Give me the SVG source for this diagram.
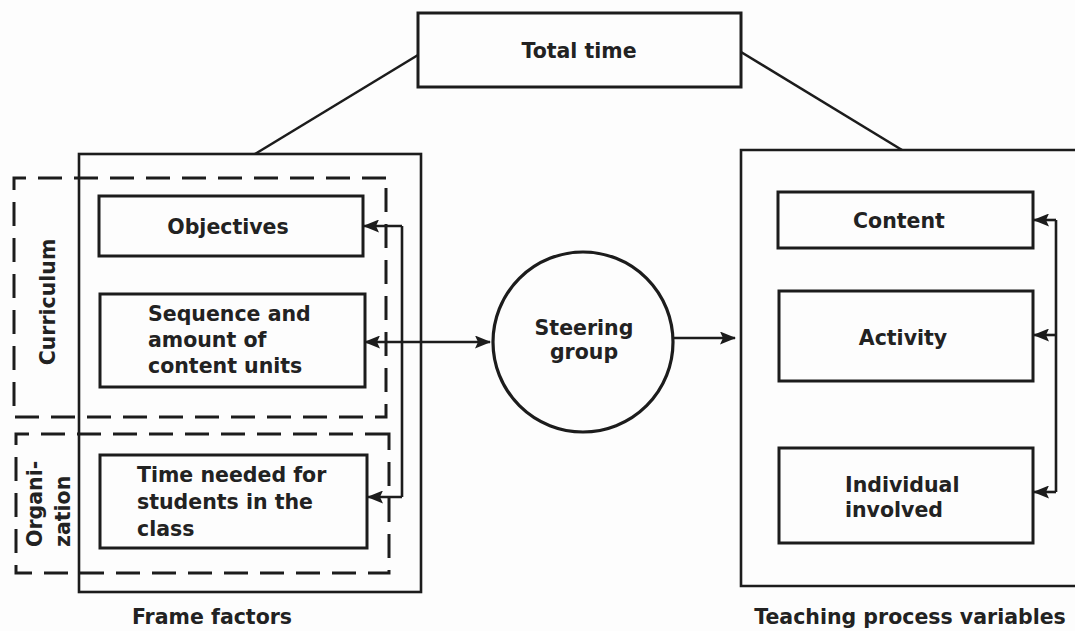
<svg xmlns="http://www.w3.org/2000/svg" width="1075" height="631" viewBox="0 0 1075 631">
<defs>
<style>
.box{fill:none;stroke:#1c1c1c;stroke-width:3}
.frame{fill:none;stroke:#1c1c1c;stroke-width:2.6}
.dash{fill:none;stroke:#1c1c1c;stroke-width:3;stroke-dasharray:24 12}
.line{fill:none;stroke:#1c1c1c;stroke-width:2.6}
text{font-family:"DejaVu Sans",sans-serif;font-weight:bold;font-size:20.5px;fill:#222}
.c{text-anchor:middle}
</style>
<marker id="ah" markerWidth="16" markerHeight="13" refX="15" refY="6.5" orient="auto-start-reverse" markerUnits="userSpaceOnUse">
<path d="M0,0 L16,6.5 L0,13 L3,6.5 Z" fill="#1c1c1c"/>
</marker>
</defs>
<rect width="1075" height="631" fill="#fdfdfd"/>

<g id="total-time">
<rect class="box" x="418" y="13" width="323" height="74" stroke-width="3.5"/>
<text class="c" x="579" y="58">Total time</text>
</g>

<g id="frame-factors">
<rect class="frame" x="79" y="154" width="342" height="438"/>
<text class="c" x="212" y="624" font-size="20">Frame factors</text>
</g>

<g id="curriculum">
<path class="dash" d="M386,178 L14,178 L14,417 L386,417 Z"/>
<text transform="translate(55,302) rotate(-90)" class="c">Curriculum</text>
</g>

<g id="organization">
<path class="dash" d="M389,434 L16,434 L16,573 L389,573 Z"/>
<text transform="translate(42,547) rotate(-90)">Organi-</text>
<text transform="translate(70,547) rotate(-90)">zation</text>
</g>

<g id="objectives">
<rect class="box" x="99" y="196" width="264" height="60"/>
<text class="c" x="228" y="234">Objectives</text>
</g>

<g id="sequence">
<rect class="box" x="100" y="294" width="265" height="93"/>
<text x="148" y="321">Sequence and</text>
<text x="148" y="347">amount of</text>
<text x="148" y="373">content units</text>
</g>

<g id="time-needed">
<rect class="box" x="100" y="455" width="267" height="93"/>
<text x="137" y="482">Time needed for</text>
<text x="137" y="509">students in the</text>
<text x="137" y="536">class</text>
</g>

<g id="steering-group">
<circle cx="583" cy="342" r="90" fill="none" stroke="#1c1c1c" stroke-width="3.2"/>
<text class="c" x="584" y="335">Steering</text>
<text class="c" x="584" y="359">group</text>
</g>

<g id="teaching-process">
<path class="frame" d="M1080,150 L741,150 L741,586 L1080,586"/>
<text class="c" x="910" y="624" font-size="20">Teaching process variables</text>
</g>

<g id="content">
<rect class="box" x="778" y="192" width="255" height="56"/>
<text class="c" x="899" y="228">Content</text>
</g>

<g id="activity">
<rect class="box" x="779" y="291" width="254" height="90"/>
<text class="c" x="903" y="345">Activity</text>
</g>

<g id="individual">
<rect class="box" x="779" y="448" width="254" height="95"/>
<text x="845" y="492">Individual</text>
<text x="845" y="517">involved</text>
</g>

<g id="connectors">
<line class="line" x1="418" y1="55" x2="255" y2="154"/>
<line class="line" x1="741" y1="52" x2="902" y2="150"/>
<path class="line" d="M402,226 L402,497"/>
<line class="line" x1="402" y1="226" x2="364" y2="226" marker-end="url(#ah)"/>
<line class="line" x1="402" y1="497" x2="368" y2="497" marker-end="url(#ah)"/>
<line class="line" x1="365" y1="342" x2="490" y2="342" marker-start="url(#ah)" marker-end="url(#ah)"/>
<line class="line" x1="673" y1="338" x2="735" y2="338" marker-end="url(#ah)"/>
<path class="line" d="M1056,220 L1056,492"/>
<line class="line" x1="1056" y1="220" x2="1034" y2="220" marker-end="url(#ah)"/>
<line class="line" x1="1056" y1="335" x2="1034" y2="335" marker-end="url(#ah)"/>
<line class="line" x1="1056" y1="492" x2="1034" y2="492" marker-end="url(#ah)"/>
</g>
</svg>
